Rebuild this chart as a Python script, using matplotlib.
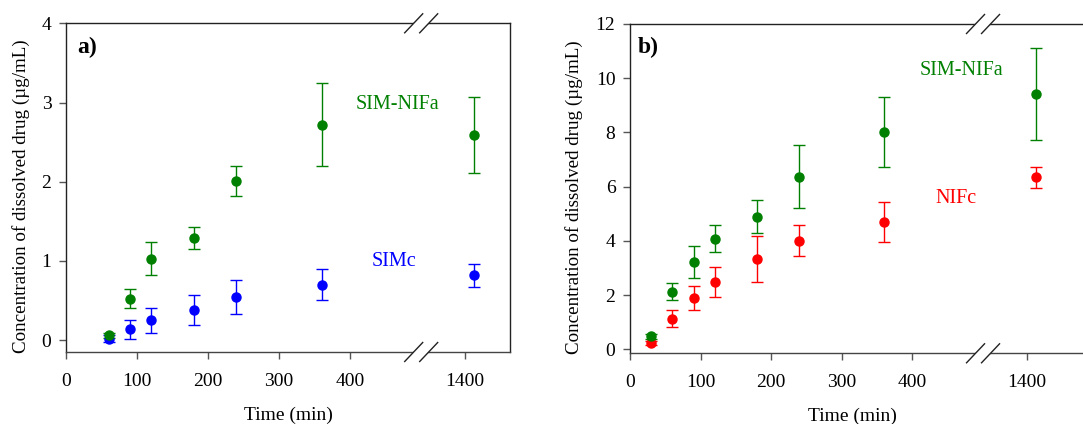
import numpy as np
import matplotlib
matplotlib.use('Agg')
import matplotlib.pyplot as plt
from matplotlib.lines import Line2D
from matplotlib.patches import Polygon

# ---------------- data ----------------
times_a = [60, 90, 120, 180, 240, 360, 1440]
simc_mean = [0.02, 0.135, 0.25, 0.38, 0.54, 0.70, 0.82]
simc_err = [0.04, 0.12, 0.16, 0.195, 0.215, 0.195, 0.145]
simnifa_a_mean = [0.06, 0.52, 1.03, 1.29, 2.01, 2.72, 2.59]
simnifa_a_err = [0.03, 0.12, 0.21, 0.14, 0.185, 0.525, 0.475]

times_b = [30, 60, 90, 120, 180, 240, 360, 1440]
nifc_mean = [0.22, 1.13, 1.89, 2.48, 3.32, 4.01, 4.71, 6.34]
nifc_err = [0.08, 0.30, 0.46, 0.56, 0.85, 0.57, 0.74, 0.38]
simnifa_b_mean = [0.47, 2.13, 3.21, 4.08, 4.89, 6.37, 8.03, 9.42]
simnifa_b_err = [0.09, 0.30, 0.60, 0.50, 0.60, 1.16, 1.29, 1.70]

x_ticks = [0, 100, 200, 300, 400, 1400]
x_ticklabels = ['0', '100', '200', '300', '400', '1400']
yticks_a = [0, 1, 2, 3, 4]
yticks_b = [0, 2, 4, 6, 8, 10, 12]

GREEN = '#008000'
BLUE = '#0000ff'
RED = '#ff0000'

plt.rcParams['font.family'] = ['Liberation Serif', 'DejaVu Serif']

# ---------------- broken x scale ----------------
BREAK = 500.0
POS1400 = 562.0
K = 0.32
R0 = 1400 - (POS1400 - BREAK) / K


def fwd(x):
    x = np.asarray(x, float)
    return np.where(x <= BREAK, x, BREAK + np.clip(x - R0, 0, None) * K)


def inv(y):
    y = np.asarray(y, float)
    return np.where(y <= BREAK, y, R0 + (y - BREAK) / K)


W, H = 1083, 424
fig = plt.figure(figsize=(W / 100, H / 100), dpi=100)

ax_a = fig.add_axes([66 / W, 1 - 352 / H, 444 / W, (352 - 23.3) / H])
ax_b = fig.add_axes([630 / W, 1 - 353.3 / H, 454 / W, (353.3 - 24) / H])

ylabel = 'Concentration of dissolved drug (\u00b5g/mL)'


def style(ax, xhi_scaled, ylim, yticks, ylabel_x, xlabel_x):
    ax.set_xscale('function', functions=(fwd, inv))
    ax.set_xlim(0, float(inv(xhi_scaled)))
    ax.set_ylim(*ylim)
    ax.set_xticks(x_ticks)
    ax.set_xticklabels(x_ticklabels)
    ax.set_yticks(yticks)
    ax.minorticks_off()
    ax.tick_params(axis='x', direction='out', length=5, width=1, color='#555555',
                   labelsize=14, pad=10)
    ax.tick_params(axis='y', direction='out', length=5, width=1, color='#555555',
                   labelsize=14, pad=5.5)
    for s in ax.spines.values():
        s.set_color('#222222')
        s.set_linewidth(1.0)
    ax.spines['bottom'].set_color('#444444')
    ax.set_ylabel(ylabel, fontsize=13.7)
    ax.yaxis.set_label_coords(ylabel_x, 0.475)
    ax.set_xlabel('Time (min)', fontsize=14)
    ax.xaxis.set_label_coords(xlabel_x, -0.165)

    # break marks on top and bottom spines
    bbox = ax.get_position()
    wpx = bbox.width * W
    hpx = bbox.height * H
    c = BREAK / xhi_scaled
    off = 7.5 / wpx
    dx = 9 / wpx
    dy = 9.5 / hpx
    for yy in (0, 1):
        hy = 3 / hpx
        sx = (9 / 9.5) * 3 / wpx
        poly = Polygon([(c - off - sx, yy - hy), (c + off - sx, yy - hy),
                        (c + off + sx, yy + hy), (c - off + sx, yy + hy)],
                       closed=True, transform=ax.transAxes, facecolor='white',
                       edgecolor='none', clip_on=False, zorder=10)
        ax.add_patch(poly)
        for cc in (c - off, c + off):
            ax.add_line(Line2D([cc - dx, cc + dx], [yy - dy, yy + dy],
                               transform=ax.transAxes, color='#222222', lw=1.0,
                               clip_on=False, zorder=11))


ekw = dict(fmt='o', markersize=6.5, capsize=4.3, elinewidth=1.0, capthick=1.0)

# panel a
style(ax_a, 625.0, (-0.15, 4.0), yticks_a, -0.081, 0.5)
ax_a.errorbar(times_a, simc_mean, yerr=simc_err, color=BLUE, ecolor=BLUE, **ekw)
ax_a.errorbar(times_a, simnifa_a_mean, yerr=simnifa_a_err, color=GREEN, ecolor=GREEN, **ekw)
ax_a.text(467, 2.92, 'SIM-NIFa', color=GREEN, fontsize=14.5, ha='center', va='baseline')
ax_a.text(462, 0.93, 'SIMc', color=BLUE, fontsize=14.5, ha='center', va='baseline')
ax_a.text(0.025, 0.911, 'a)', transform=ax_a.transAxes, fontsize=17,
          fontweight='bold', ha='left', va='baseline')

# panel b
style(ax_b, 643.0, (-0.15, 12.0), yticks_b, -0.1035, 0.489)
ax_b.errorbar(times_b, nifc_mean, yerr=nifc_err, color=RED, ecolor=RED, **ekw)
ax_b.errorbar(times_b, simnifa_b_mean, yerr=simnifa_b_err, color=GREEN, ecolor=GREEN, **ekw)
ax_b.text(470, 10.12, 'SIM-NIFa', color=GREEN, fontsize=14.5, ha='center', va='baseline')
ax_b.text(462, 5.39, 'NIFc', color=RED, fontsize=14.5, ha='center', va='baseline')
ax_b.text(0.0176, 0.913, 'b)', transform=ax_b.transAxes, fontsize=17,
          fontweight='bold', ha='left', va='baseline')

fig.savefig('out.png', dpi=100)
